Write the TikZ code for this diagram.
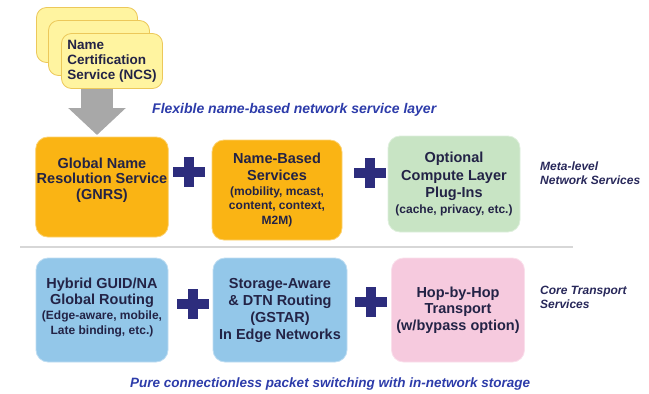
\documentclass[tikz,border=0pt]{standalone}
\usepackage{fontspec}
\setmainfont{Liberation Sans}
\usetikzlibrary{arrows.meta}
\definecolor{nameorange}{RGB}{250,180,20}
\definecolor{plugingreen}{RGB}{200,228,196}
\definecolor{routeblue}{RGB}{147,199,233}
\definecolor{hoppink}{RGB}{246,202,222}
\definecolor{cardyellow}{RGB}{255,244,160}
\definecolor{cardedge}{RGB}{236,200,90}
\definecolor{plusnavy}{RGB}{45,45,125}
\definecolor{boxtext}{RGB}{35,35,70}
\definecolor{layerblue}{RGB}{45,60,170}
\definecolor{sidenavy}{RGB}{40,40,90}
\definecolor{arrowgray}{RGB}{168,168,168}
\definecolor{sepgray}{RGB}{215,215,215}
\newcommand{\subtext}{\fontsize{12}{14}\selectfont}
\begin{document}
\begin{tikzpicture}
[x=1pt,y=-1pt,
  boxdecorate/.style={shape=rectangle,rounded corners=12pt,fill=#1,draw=#1!60!white,
    line width=0.8pt,minimum width=132pt,minimum height=100pt,align=center,inner sep=1pt,
    font=\bfseries\fontsize{14.5}{16.5}\selectfont,text=boxtext},
  carddecorate/.style={shape=rectangle,rounded corners=10pt,fill=cardyellow,draw=cardedge,
    line width=0.8pt,minimum width=101pt,minimum height=55pt,align=left,inner sep=2pt,
    font=\bfseries\fontsize{13.5}{15}\selectfont,text=boxtext},
  plusdecorate/.style={line width=10pt,plusnavy},
  arrowdecorate/.style={line width=32pt,arrowgray,-{Triangle[length=27pt,width=56pt]}},
  layerdecorate/.style={anchor=west,inner sep=0pt,text=layerblue,
    font=\bfseries\itshape\fontsize{13.5}{16}\selectfont},
  sidedecorate/.style={anchor=west,inner sep=0pt,align=left,text=sidenavy,
    font=\bfseries\itshape\fontsize{12}{14}\selectfont},
  sepdecorate/.style={line width=1.2pt,sepgray}]
\useasboundingbox (0,0) rectangle (649,394);
%% name certification cards
\foreach \cardname/\x/\y in {ncsa/87/35, ncsb/99/48} {
  \node (\cardname) at (\x,\y) [carddecorate] {};
}
\node (ncsc) at (112,61) [carddecorate] {Name\\Certification\\Service (NCS)};
\coordinate (arrowtip) at (97,135);
\draw[arrowdecorate] (ncsc.south -| arrowtip) -- (arrowtip);
%% meta-level services
\node (gnrs) at (102,187) [boxdecorate=nameorange,text depth=17pt]
  {Global Name\\[-1pt]Resolution Service\\[-1pt](GNRS)};
\node (names) at (277,190) [boxdecorate=nameorange,minimum width=130pt]
  {Name-Based\\Services\\[-1.5pt]{\subtext (mobility, mcast,}\\[-2pt]
   {\subtext content, context,}\\[-2pt]{\subtext M2M)}};
\node (plugins) at (454,184) [boxdecorate=plugingreen,minimum height=96pt]
  {Optional\\[1pt]Compute Layer\\[1pt]Plug-Ins\\[-1pt]{\subtext (cache, privacy, etc.)}};
%% core transport services
\node (guidna) at (102,310) [boxdecorate=routeblue,minimum height=104pt,text depth=8pt]
  {Hybrid GUID/NA\\Global Routing\\[-1.5pt]{\subtext (Edge-aware, mobile,}\\[-2pt]
   {\subtext Late binding, etc.)}};
\node (gstar) at (280,310) [boxdecorate=routeblue,minimum width=134pt,minimum height=104pt]
  {Storage-Aware\\[0.5pt]\& DTN Routing\\[0.5pt](GSTAR)\\[0.5pt]In Edge Networks};
\node (hopbyhop) at (458,310) [boxdecorate=hoppink,minimum width=133pt,minimum height=104pt]
  {Hop-by-Hop\\Transport\\(w/bypass option)};
%% plus signs
\foreach \plusname/\x/\y in {plusa/189/172, plusb/370/173, plusc/193/304, plusd/371/302} {
  \coordinate (\plusname) at (\x,\y);
  \draw[plusdecorate] (\plusname) +(-16,0) -- +(16,0) +(0,-15) -- +(0,15);
}
%% layer labels
\draw[sepdecorate] (20,247) -- (573,247);
\node (flexlayer) at (152,110) [layerdecorate,font=\bfseries\itshape\fontsize{14}{16}\selectfont]
  {Flexible name-based network service layer};
\node (purelayer) at (130,384) [layerdecorate] {Pure connectionless packet switching with in-network storage};
\node (metalevel) at (540,173) [sidedecorate] {Meta-level\\Network Services};
\node (coretransport) at (540,297) [sidedecorate] {Core Transport\\Services};
\end{tikzpicture}
\end{document}
